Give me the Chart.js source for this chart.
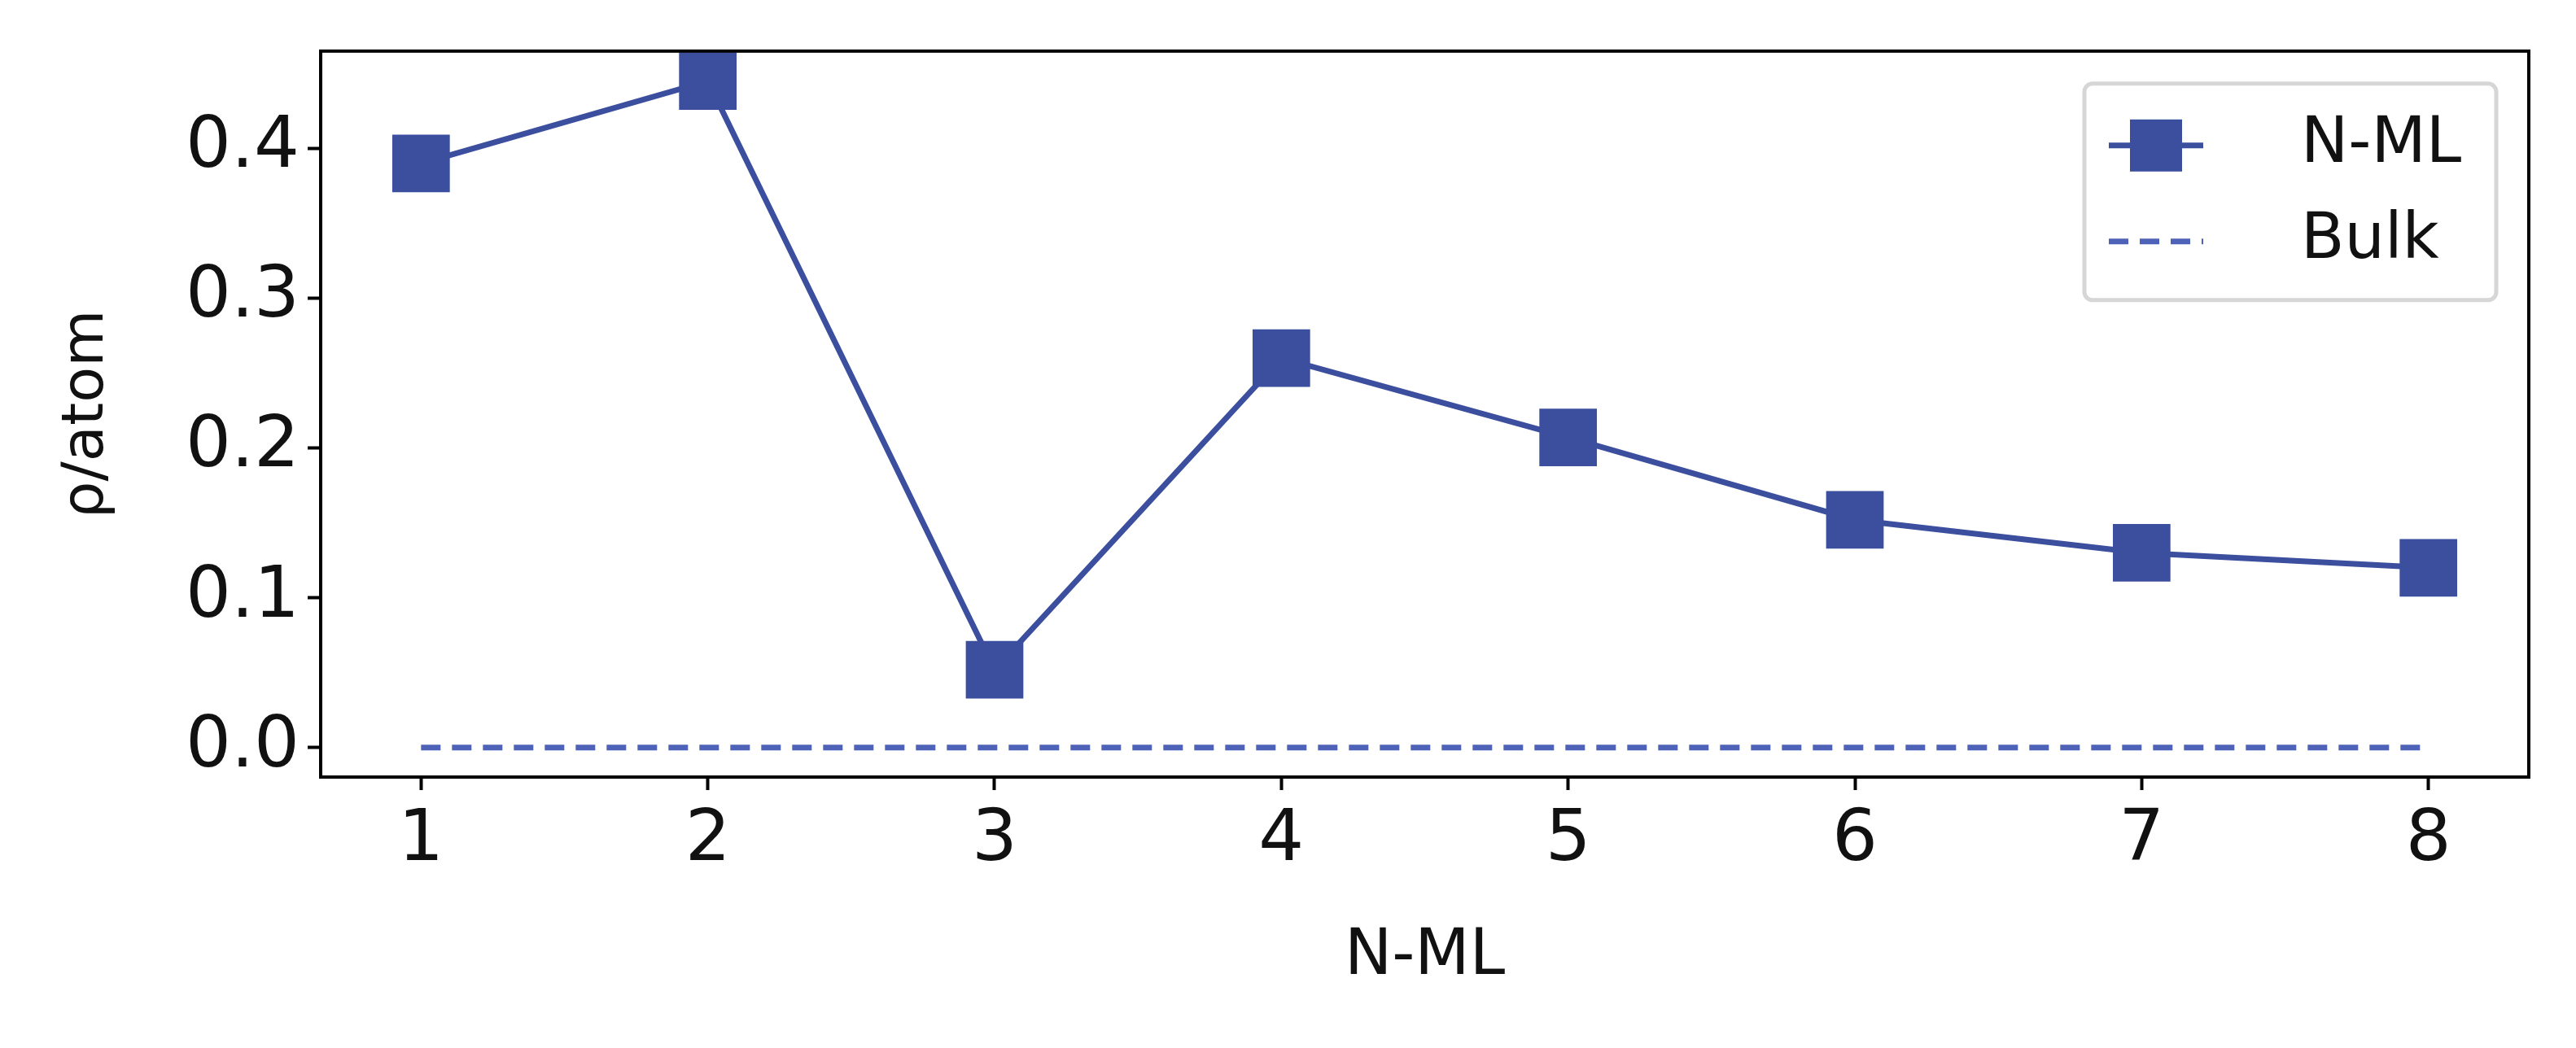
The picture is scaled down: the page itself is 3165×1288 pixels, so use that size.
<!DOCTYPE html>
<html><head><meta charset="utf-8">
<script src="https://cdn.jsdelivr.net/npm/chart.js@4"></script>
<style>html,body{margin:0;padding:0;background:#fff}#c{display:block}</style>
</head><body>
<canvas id="c" width="3165" height="1288"></canvas>
<script>
const layers = [1, 2, 3, 4, 5, 6, 7, 8];
const rhoValues = [0.39, 0.445, 0.052, 0.26, 0.207, 0.152, 0.13, 0.12];
const bulkValues = [0, 0, 0, 0, 0, 0, 0, 0];
const yTicks = [0, 0.1, 0.2, 0.3, 0.4];
const lineColor = '#3b4f9e';
const bulkColor = '#4e63b8';

// legend drawn by hand to get the matplotlib frame
const legendBox = {
  id: 'legendBox',
  afterDraw(chart) {
    const ctx = chart.ctx, a = chart.chartArea;
    const w = 506, h = 266, x = a.right - w - 40, y = a.top + 40;
    ctx.save();
    ctx.fillStyle = 'rgba(255,255,255,0.8)';
    ctx.strokeStyle = '#d6d6d6';
    ctx.lineWidth = 5;
    ctx.beginPath();
    ctx.roundRect(x, y, w, h, 10);
    ctx.fill(); ctx.stroke();
    const ly1 = y + 76, ly2 = y + 194;
    ctx.strokeStyle = lineColor; ctx.lineWidth = 7;
    ctx.beginPath(); ctx.moveTo(x + 30, ly1); ctx.lineTo(x + 146, ly1); ctx.stroke();
    ctx.fillStyle = lineColor;
    ctx.fillRect(x + 88 - 32, ly1 - 32, 64, 64);
    ctx.strokeStyle = bulkColor; ctx.setLineDash([24, 14]);
    ctx.beginPath(); ctx.moveTo(x + 30, ly2); ctx.lineTo(x + 146, ly2); ctx.stroke();
    ctx.setLineDash([]);
    ctx.fillStyle = '#111';
    ctx.font = '78px "DejaVu Sans"';
    ctx.textBaseline = 'middle';
    ctx.fillText('N-ML', x + 266, ly1);
    ctx.fillText('Bulk', x + 266, ly2);
    ctx.restore();
  }
};

const frame = {
  id: 'frame',
  afterDraw(chart) {
    const c = chart.ctx, a = chart.chartArea;
    c.save(); c.strokeStyle = '#000'; c.lineWidth = 4;
    c.strokeRect(a.left, a.top, a.right - a.left, a.bottom - a.top);
    c.restore();
  }
};

const tickGrid = { display: true, drawOnChartArea: false, drawTicks: true, tickLength: 16, tickWidth: 4, tickColor: '#000' };

new Chart(document.getElementById('c'), {
  type: 'line',
  data: {
    datasets: [
      {
        label: 'N-ML',
        data: layers.map((n, i) => ({ x: n, y: rhoValues[i] })),
        borderColor: lineColor,
        backgroundColor: lineColor,
        borderWidth: 7,
        pointStyle: 'rect',
        pointRadius: 50,
        pointBorderWidth: 0,
        tension: 0
      },
      {
        label: 'Bulk',
        data: layers.map((n, i) => ({ x: n, y: bulkValues[i] })),
        borderColor: bulkColor,
        borderWidth: 7,
        borderDash: [24, 14],
        pointRadius: 0
      }
    ]
  },
  plugins: [legendBox, frame],
  options: {
    responsive: false,
    animation: false,
    layout: { padding: { left: 60, top: 61, right: 58, bottom: 60 } },
    plugins: { legend: { display: false }, tooltip: { enabled: false } },
    scales: {
      x: {
        type: 'linear',
        min: 0.65, max: 8.35,
        afterBuildTicks: s => { s.ticks = layers.map(v => ({ value: v })); },
        afterFit: s => { s.height = 273; },
        grid: tickGrid,
        border: { display: true, color: '#000', width: 4 },
        ticks: { color: '#111', font: { size: 88, family: 'DejaVu Sans' }, padding: 10 },
        title: { display: true, text: 'N-ML', color: '#111', font: { size: 78, family: 'DejaVu Sans' }, padding: { top: 20 } }
      },
      y: {
        min: -0.0197, max: 0.465,
        afterBuildTicks: s => { s.ticks = yTicks.map(v => ({ value: v })); },
        afterFit: s => { s.width = 334; },
        grid: tickGrid,
        border: { display: true, color: '#000', width: 4 },
        ticks: { color: '#111', font: { size: 88, family: 'DejaVu Sans' }, padding: 10, callback: v => v.toFixed(1) },
        title: { display: true, text: 'ρ/atom', color: '#111', font: { size: 72, family: 'DejaVu Sans' }, padding: { bottom: 20 } }
      }
    }
  }
});
</script>
</body></html>
